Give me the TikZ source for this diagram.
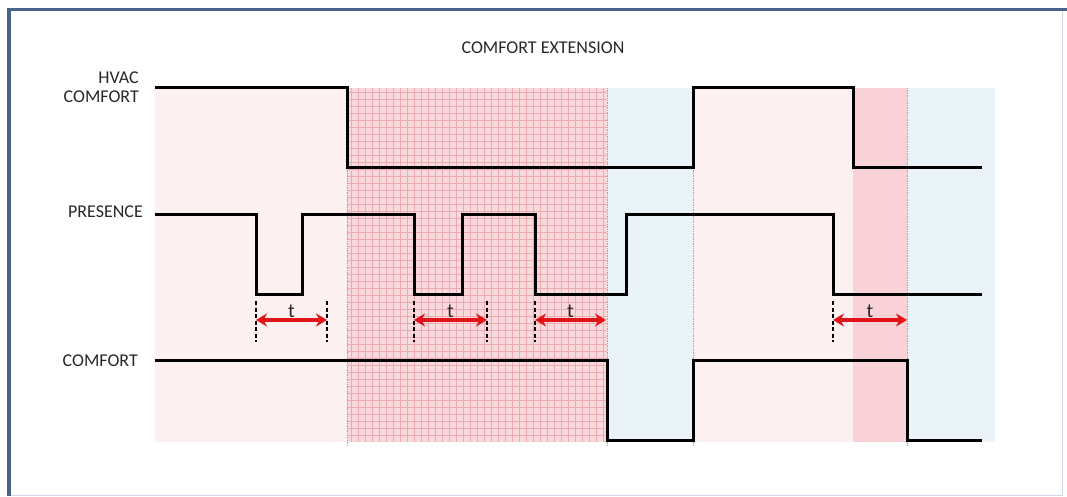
\documentclass[tikz,border=0pt]{standalone}
\usepackage{fontspec}
\setmainfont{Carlito}
\usetikzlibrary{arrows.meta,calc}
\definecolor{framebl}{RGB}{72,98,140}
\definecolor{frameli}{RGB}{205,215,230}
\definecolor{pinkL}{RGB}{252,240,240}
\definecolor{pinkD}{RGB}{248,218,221}
\definecolor{pinkDg}{RGB}{238,170,177}
\definecolor{pinkH}{RGB}{248,210,214}
\definecolor{blueL}{RGB}{234,243,248}
\definecolor{arrred}{RGB}{225,20,25}
\definecolor{txt}{RGB}{40,40,40}
\tikzset{
  lbl/.style={font=\fontsize{18}{19}\selectfont, text=txt, inner sep=0pt},
  tlbl/.style={font=\fontsize{20}{21}\selectfont, text=txt, inner sep=0pt},
  sig/.style={line width=3pt, line join=miter},
  sep/.style={gray!70, line width=0.7pt, densely dotted},
  gridln/.style={pinkDg, line width=0.7pt},
  tick/.style={black, line width=1.3pt, dash pattern=on 4pt off 2.5pt},
  tarrow/.style={arrred, line width=3.3pt, {Stealth[length=11pt,width=13pt]}-{Stealth[length=11pt,width=13pt]}},
}
\begin{document}
\begin{tikzpicture}[x=1pt,y=-1pt]
\useasboundingbox (0,0) rectangle (1067,497);
\fill[white] (0,0) rectangle (1067,497);
% frame
\draw[frameli, line width=1pt] (1062,9) -- (1062,495) -- (9,495);
\draw[framebl, line width=3.5pt] (9,496) -- (9,9.5) -- (1067,9.5);
% background regions
\fill[pinkL] (155,88) rectangle (347,442);
\fill[pinkD] (347,88) rectangle (607,442);
\foreach \gx in {351,358,...,604} \draw[gridln] (\gx,88) -- (\gx,442);
\foreach \gy in {92,99,...,440} \draw[gridln] (347,\gy) -- (607,\gy);
\fill[blueL] (607,88) rectangle (693,442);
\fill[pinkL] (693,88) rectangle (853,442);
\fill[pinkH] (853,88) rectangle (907,442);
\fill[blueL] (907,88) rectangle (995,442);
% separators
\foreach \xx in {347,607,693,907} \draw[sep] (\xx,88) -- (\xx,446);
% title and labels
\node[lbl] (title) at (543,48) {COMFORT EXTENSION};
\node[lbl, anchor=east, align=right] (hvac) at (139,87) {HVAC\\COMFORT};
\node[lbl, anchor=east] (pres) at (143,212) {PRESENCE};
\node[lbl, anchor=east] (comf) at (138,361) {COMFORT};
% HVAC COMFORT signal
\draw[sig] (155,88) -- (347,88) -- (347,168) -- (693,168) -- (693,88) -- (853,88) -- (853,168) -- (982,168);
% PRESENCE signal
\draw[sig] (155,214) -- (256,214) -- (256,294) -- (302,294) -- (302,214) -- (414,214) -- (414,294) -- (462,294) -- (462,214) -- (535,214) -- (535,294) -- (626,294) -- (626,214) -- (833,214) -- (833,294) -- (982,294);
% COMFORT signal
\draw[sig] (155,360) -- (607,360) -- (607,440) -- (693,440) -- (693,360) -- (907,360) -- (907,440) -- (982,440);
% t markers
\foreach \i/\a/\b/\rt in {1/256/327/1, 2/414/487/1, 3/535/606/0, 4/833/907/0} {
  \coordinate (ta\i) at (\a,320);
  \coordinate (tb\i) at (\b,320);
  \draw[tick] (\a,301) -- (\a,342);
  \ifnum\rt=1 \draw[tick] (\b,301) -- (\b,342); \fi
  \draw[tarrow] (ta\i) -- (tb\i);
  \node[tlbl] (tl\i) at ($(ta\i)!0.5!(tb\i)+(0,-9)$) {t};
}
\end{tikzpicture}
\end{document}
